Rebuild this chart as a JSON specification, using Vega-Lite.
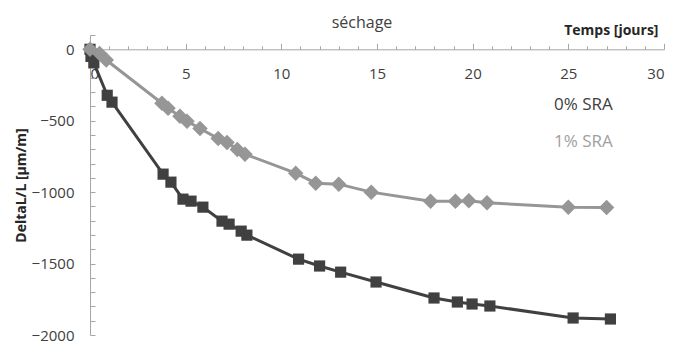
{
  "$schema": "https://vega.github.io/schema/vega-lite/v6.json",
  "width": 574,
  "height": 300,
  "autosize": {"type": "none"},
  "padding": {"left": 90, "top": 35, "right": 13, "bottom": 12},
  "background": "white",
  "config": {
    "view": {"stroke": null},
    "font": "Open Sans",
    "axis": {"grid": false, "domainColor": "#a6a6a6", "tickColor": "#a6a6a6", "labelColor": "#404040", "labelFont": "Open Sans", "labelFontSize": 15, "titleFont": "Open Sans", "titleColor": "#262626"}
  },
  "title": {"text": "séchage", "anchor": "middle", "dx": -15, "offset": -8, "fontSize": 16, "fontWeight": "normal", "color": "#404040", "font": "Open Sans"},
  "data": {"values": [
    {"t": 0, "v": 0, "s": "0% SRA"},
    {"t": 0.05, "v": -50, "s": "0% SRA"},
    {"t": 0.2, "v": -95, "s": "0% SRA"},
    {"t": 0.9, "v": -322, "s": "0% SRA"},
    {"t": 1.15, "v": -370, "s": "0% SRA"},
    {"t": 3.82, "v": -874, "s": "0% SRA"},
    {"t": 4.23, "v": -930, "s": "0% SRA"},
    {"t": 4.86, "v": -1049, "s": "0% SRA"},
    {"t": 5.28, "v": -1063, "s": "0% SRA"},
    {"t": 5.9, "v": -1105, "s": "0% SRA"},
    {"t": 6.9, "v": -1203, "s": "0% SRA"},
    {"t": 7.27, "v": -1224, "s": "0% SRA"},
    {"t": 7.9, "v": -1273, "s": "0% SRA"},
    {"t": 8.2, "v": -1301, "s": "0% SRA"},
    {"t": 10.9, "v": -1469, "s": "0% SRA"},
    {"t": 12.0, "v": -1517, "s": "0% SRA"},
    {"t": 13.1, "v": -1560, "s": "0% SRA"},
    {"t": 14.95, "v": -1629, "s": "0% SRA"},
    {"t": 17.98, "v": -1741, "s": "0% SRA"},
    {"t": 19.2, "v": -1769, "s": "0% SRA"},
    {"t": 19.97, "v": -1783, "s": "0% SRA"},
    {"t": 20.9, "v": -1797, "s": "0% SRA"},
    {"t": 25.25, "v": -1881, "s": "0% SRA"},
    {"t": 27.2, "v": -1888, "s": "0% SRA"},
    {"t": 0, "v": 0, "s": "1% SRA"},
    {"t": 0.5, "v": -30, "s": "1% SRA"},
    {"t": 0.85, "v": -75, "s": "1% SRA"},
    {"t": 3.76, "v": -378, "s": "1% SRA"},
    {"t": 4.08, "v": -413, "s": "1% SRA"},
    {"t": 4.7, "v": -469, "s": "1% SRA"},
    {"t": 5.07, "v": -503, "s": "1% SRA"},
    {"t": 5.75, "v": -555, "s": "1% SRA"},
    {"t": 6.7, "v": -625, "s": "1% SRA"},
    {"t": 7.16, "v": -652, "s": "1% SRA"},
    {"t": 7.7, "v": -702, "s": "1% SRA"},
    {"t": 8.1, "v": -734, "s": "1% SRA"},
    {"t": 10.75, "v": -867, "s": "1% SRA"},
    {"t": 11.8, "v": -937, "s": "1% SRA"},
    {"t": 13.0, "v": -944, "s": "1% SRA"},
    {"t": 14.7, "v": -1000, "s": "1% SRA"},
    {"t": 17.8, "v": -1063, "s": "1% SRA"},
    {"t": 19.1, "v": -1063, "s": "1% SRA"},
    {"t": 19.8, "v": -1060, "s": "1% SRA"},
    {"t": 20.75, "v": -1075, "s": "1% SRA"},
    {"t": 25.0, "v": -1105, "s": "1% SRA"},
    {"t": 27.0, "v": -1108, "s": "1% SRA"}
  ]},
  "encoding": {
    "x": {"field": "t", "type": "quantitative", "scale": {"domain": [0, 30], "nice": false},
      "axis": {"orient": "bottom", "offset": -285.7, "values": [0,1,2,3,4,5,6,7,8,9,10,11,12,13,14,15,16,17,18,19,20,21,22,23,24,25,26,27,28,29,30],
        "labelExpr": "datum.value % 5 === 0 ? datum.label : ''",
        "tickSize": {"condition": {"test": "datum.value % 5 === 0", "value": -6}, "value": -3.5},
        "labelPadding": 23,
        "title": "Temps [jours]", "titleFontSize": 14, "titleFontWeight": "bold", "titleAlign": "right", "titleBaseline": "alphabetic", "titleX": 568, "titleY": -15}},
    "y": {"field": "v", "type": "quantitative", "scale": {"domain": [-2000, 100], "nice": false, "zero": false},
      "axis": {"values": [-2000,-1900,-1800,-1700,-1600,-1500,-1400,-1300,-1200,-1100,-1000,-900,-800,-700,-600,-500,-400,-300,-200,-100,0,100],
        "labelExpr": "datum.value % 500 === 0 ? datum.label : ''",
        "format": "d",
        "tickSize": -5,
        "labelPadding": 21,
        "title": "DeltaL/L [µm/m]", "titleFontSize": 14, "titleFontWeight": "bold", "titleX": -69, "titleY": 150, "titleBaseline": "middle", "titleAnchor": "middle"}},
    "color": {"field": "s", "type": "nominal", "scale": {"domain": ["0% SRA", "1% SRA"], "range": ["#404040", "#969696"]},
      "legend": {"orient": "none", "legendX": 447, "legendY": 61, "title": null, "symbolSize": 0, "symbolOpacity": 0, "symbolStrokeWidth": 0, "labelOffset": 0, "labelFontSize": 17, "labelFont": "Open Sans", "rowPadding": 19,
        "encode": {"labels": {"update": {"fill": {"signal": "datum.label === '0% SRA' ? '#404040' : '#a0a0a0'"}}}}}}
  },
  "layer": [
    {"mark": {"type": "line", "strokeWidth": 3}},
    {"mark": {"type": "point", "filled": true, "opacity": 1},
      "encoding": {"shape": {"field": "s", "type": "nominal", "scale": {"domain": ["0% SRA", "1% SRA"], "range": ["square", "diamond"]}, "legend": null},
        "size": {"field": "s", "type": "nominal", "scale": {"domain": ["0% SRA", "1% SRA"], "range": [125, 240]}, "legend": null}}}
  ]
}
